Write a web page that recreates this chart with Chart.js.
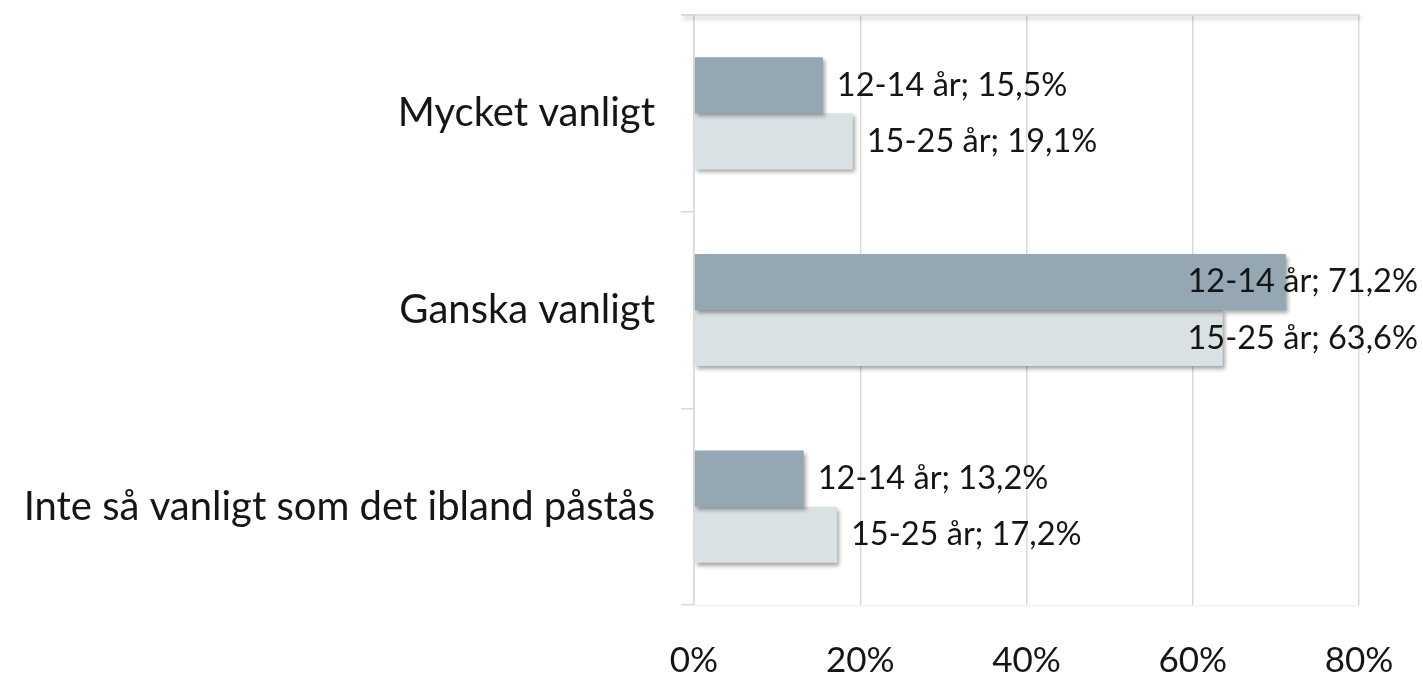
<!DOCTYPE html>
<html>
<head>
<meta charset="utf-8">
<script src="https://cdn.jsdelivr.net/npm/chart.js@4/dist/chart.umd.min.js"></script>
<style>
  html, body { margin: 0; padding: 0; background: #ffffff; }
  #wrap { width: 1423px; height: 677px; position: relative; }
</style>
</head>
<body>
<div id="wrap"><canvas id="c" width="1423" height="677"></canvas></div>
<script>
// Survey answers per age group (percent)
const categories = ['Mycket vanligt', 'Ganska vanligt', 'Inte så vanligt som det ibland påstås'];
const seriesNames = ['12-14 år', '15-25 år'];
const values1214 = [15.5, 71.2, 13.2];
const values1525 = [19.1, 63.6, 17.2];
const xTicks = [0, 20, 40, 60, 80];

const FONT_FAMILY = 'Lato, "Open Sans", sans-serif';
const CAT_FONT = { family: FONT_FAMILY, size: 40, weight: '400' };
const TICK_FONT = { family: FONT_FAMILY, size: 35, weight: '400' };
const LABEL_FONT = { family: FONT_FAMILY, size: 32.5, weight: '400' };
const TEXT = '#151515';
const GRID = '#d9d9d9';

const fmt = v => v.toFixed(1).replace('.', ',') + '%';

// Soft drop shadow under the bars
const barShadow = {
  id: 'barShadow',
  beforeDatasetsDraw(chart) {
    const ctx = chart.ctx;
    ctx.save();
    ctx.shadowColor = 'rgba(0,0,0,0.35)';
    ctx.shadowBlur = 4;
    ctx.shadowOffsetX = 2;
    ctx.shadowOffsetY = 3;
  },
  afterDatasetsDraw(chart) {
    chart.ctx.restore();
  }
};

// Top frame line across the plot area
const topLine = {
  id: 'topLine',
  beforeDatasetsDraw(chart) {
    const { ctx, chartArea } = chart;
    ctx.save();
    ctx.strokeStyle = GRID;
    ctx.lineWidth = 1.5;
    ctx.beginPath();
    ctx.moveTo(chartArea.left - 13, chartArea.top);
    ctx.lineTo(chartArea.right, chartArea.top);
    ctx.stroke();
    ctx.restore();
  }
};

// "Series; value" labels right of each bar, kept inside the canvas
const valueLabels = {
  id: 'valueLabels',
  afterDatasetsDraw(chart) {
    const ctx = chart.ctx;
    ctx.save();
    ctx.font = `${LABEL_FONT.weight} ${LABEL_FONT.size}px ${FONT_FAMILY}`;
    ctx.fillStyle = TEXT;
    ctx.textBaseline = 'middle';
    ctx.textAlign = 'left';
    chart.data.datasets.forEach((ds, di) => {
      chart.getDatasetMeta(di).data.forEach((bar, i) => {
        const text = ds.label + '; ' + fmt(ds.data[i]);
        const w = ctx.measureText(text).width;
        let x = bar.x + 14;
        const maxX = chart.width - 5 - w;
        if (x > maxX) x = maxX;
        ctx.fillText(text, x, bar.y);
      });
    });
    ctx.restore();
  }
};

new Chart(document.getElementById('c'), {
  type: 'bar',
  data: {
    labels: categories,
    datasets: [
      { label: seriesNames[0], data: values1214, backgroundColor: '#94a7b2' },
      { label: seriesNames[1], data: values1525, backgroundColor: '#dae1e5' }
    ]
  },
  options: {
    indexAxis: 'y',
    responsive: false,
    animation: false,
    devicePixelRatio: 1,
    categoryPercentage: 0.57,
    barPercentage: 1.0,
    layout: { padding: { top: 15, right: 64, left: 0, bottom: 0 } },
    plugins: { legend: { display: false }, tooltip: { enabled: false } },
    scales: {
      x: {
        min: 0, max: 80,
        afterBuildTicks: s => { s.ticks = xTicks.map(v => ({ value: v })); },
        ticks: { callback: v => v + '%', font: TICK_FONT, color: TEXT, padding: 35 },
        grid: { drawTicks: false, color: GRID, lineWidth: 1.5 },
        border: { display: true, color: '#eeeeee', width: 1 },
        afterFit: s => { s.height = 72; s.paddingLeft = 0; s.paddingRight = 0; }
      },
      y: {
        ticks: { font: CAT_FONT, color: TEXT, padding: 26 },
        grid: { drawOnChartArea: false, drawTicks: true, tickLength: 13, offset: true, color: GRID, lineWidth: 1.5 },
        border: { display: true, color: GRID, width: 1.5 },
        afterFit: s => { s.width = 694; s.paddingTop = 0; s.paddingBottom = 0; }
      }
    }
  },
  plugins: [barShadow, topLine, valueLabels]
});
</script>
</body>
</html>
